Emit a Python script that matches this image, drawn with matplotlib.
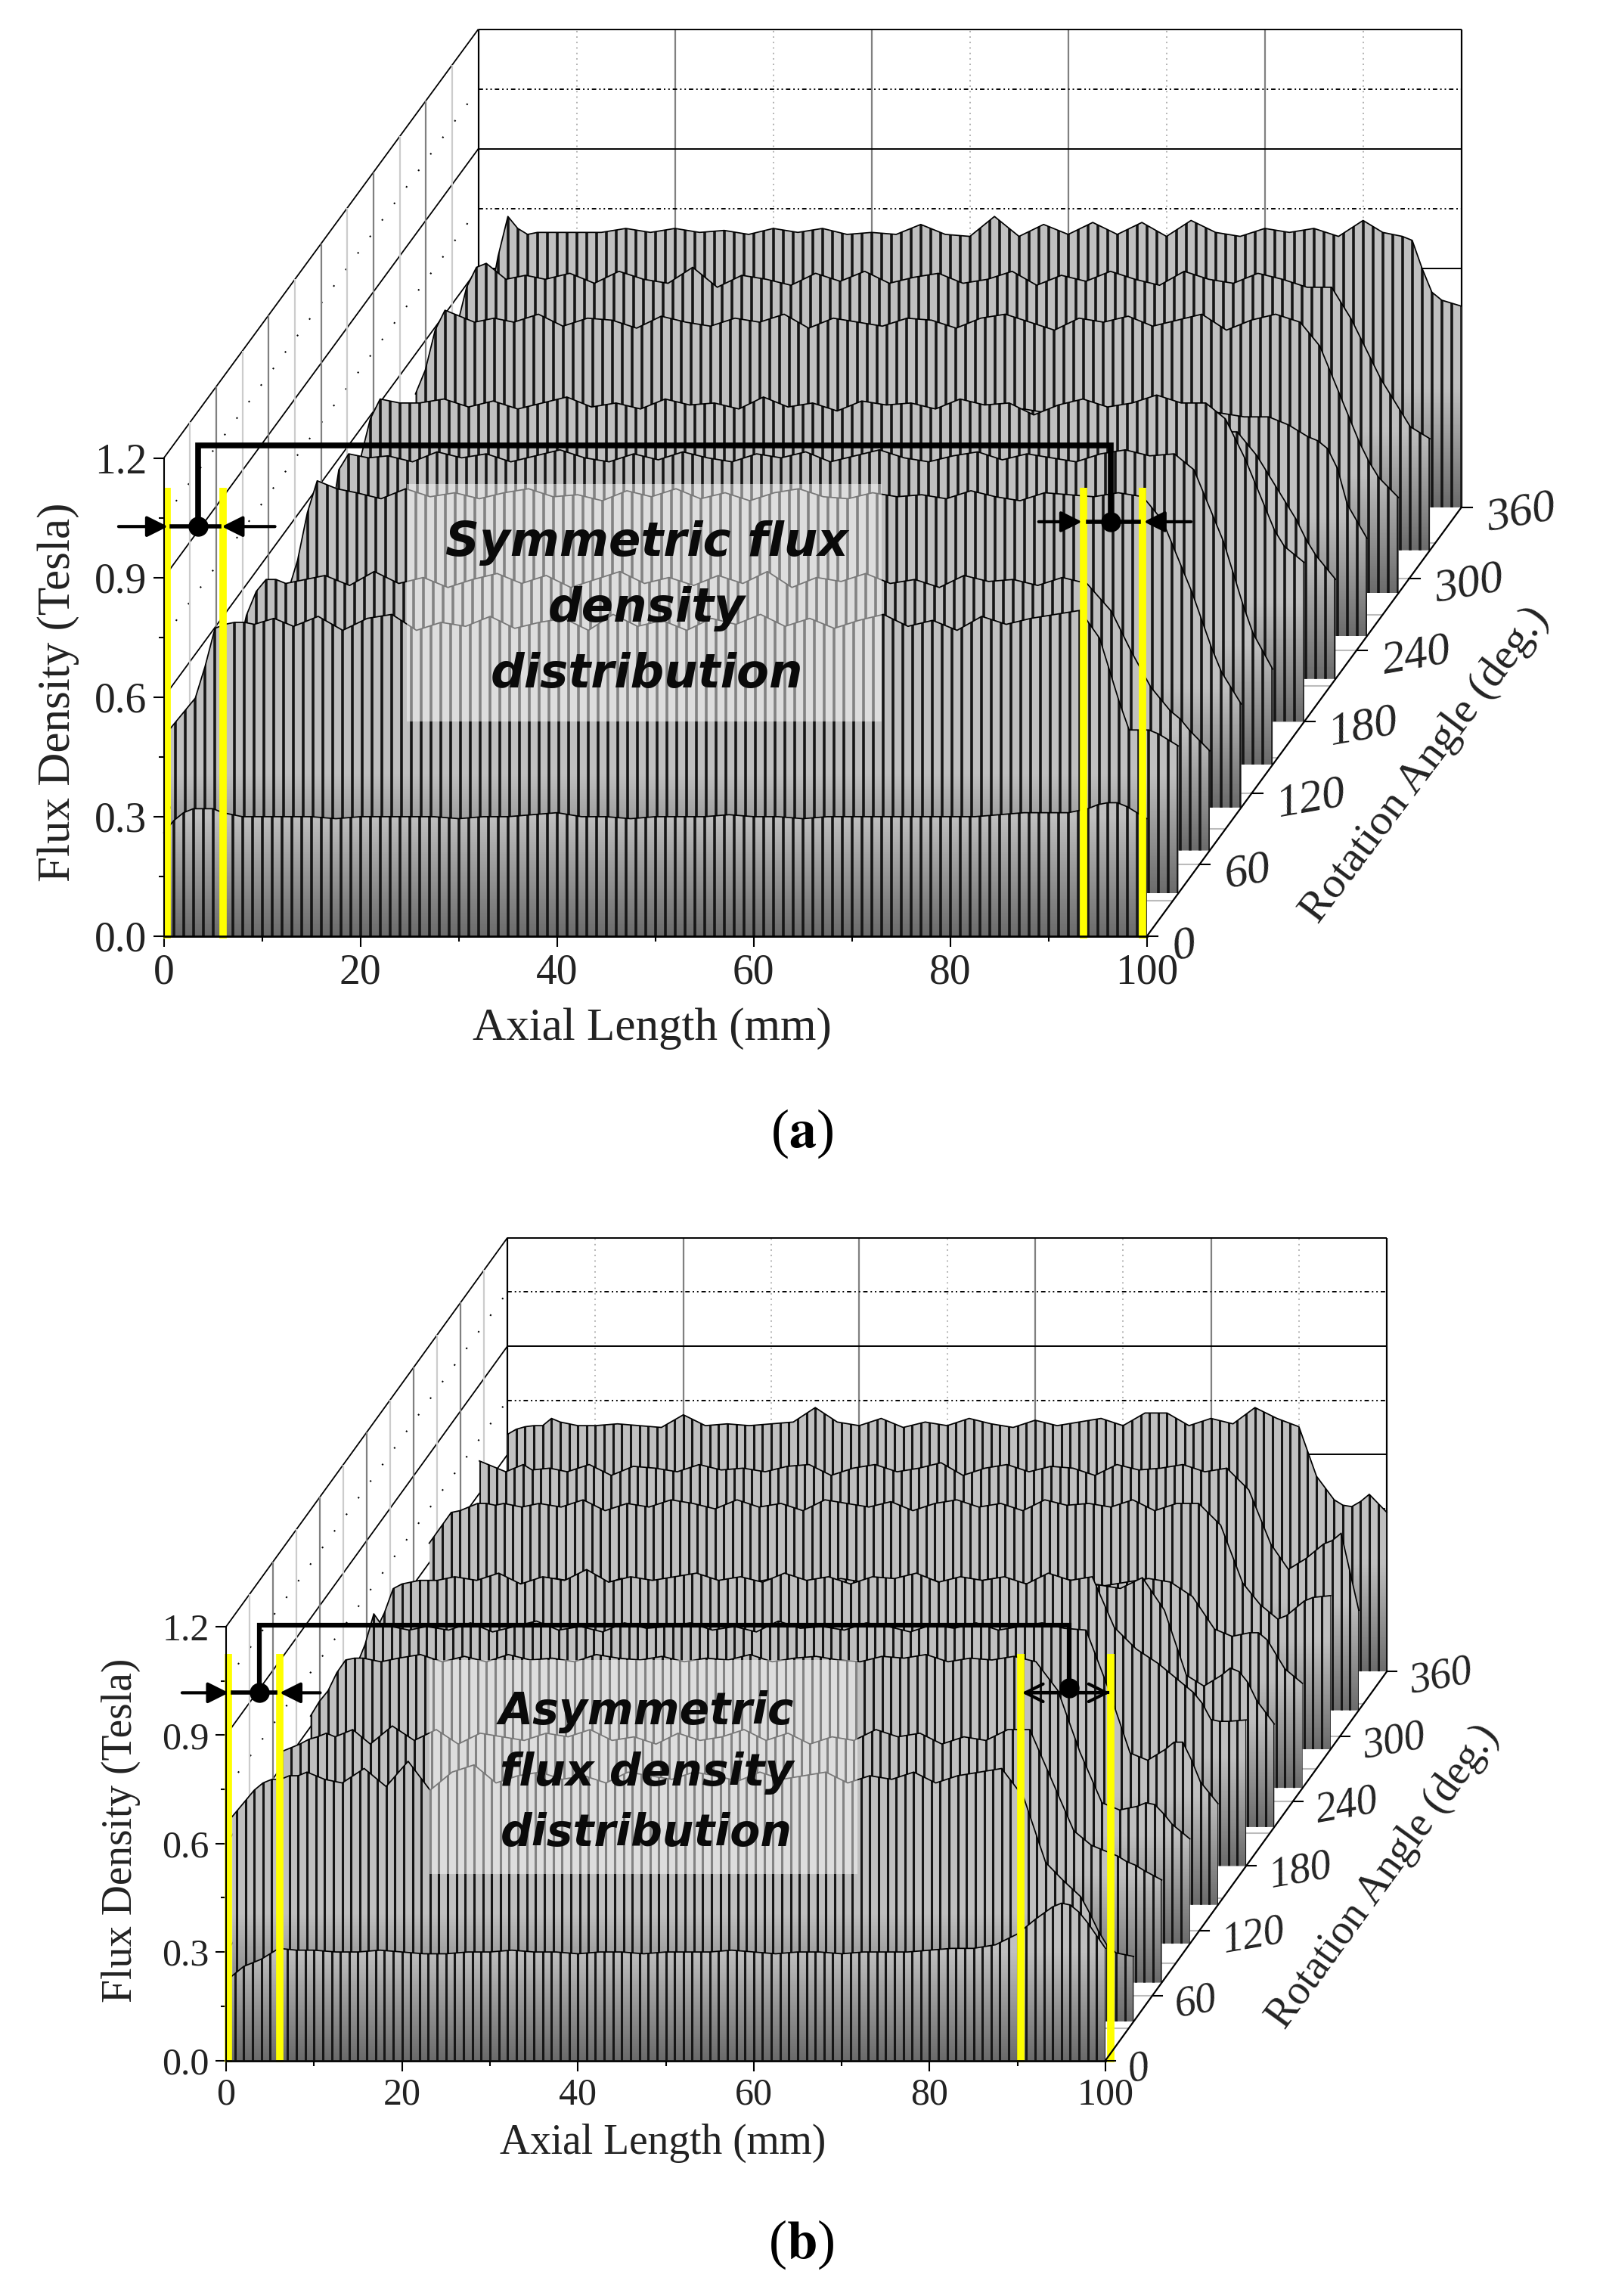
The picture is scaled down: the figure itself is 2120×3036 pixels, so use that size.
"""Two oblique wall plots of flux density against axial length and rotation angle."""
import matplotlib
matplotlib.use("Agg")
import matplotlib.pyplot as plt
import numpy as np
from matplotlib.patches import Polygon, Rectangle

plt.rcParams["font.family"] = ["Liberation Serif", "DejaVu Serif"]
plt.rcParams["mathtext.fontset"] = "stix"

nan = float("nan")

# --- data ---
angles = [0, 36, 72, 108, 144, 180, 216, 252, 288, 324, 360]
x_mm = [-2.5, 0, 1, 2, 3, 4, 5, 6, 8,
        10, 12.5, 15, 17.5, 20, 22.5, 25, 27.5, 30, 32.5, 35, 37.5, 40, 42.5, 45, 47.5, 50,
        52.5, 55, 57.5, 60, 62.5, 65, 67.5, 70, 72.5, 75, 77.5, 80, 82.5, 85, 87.5, 90,
        92, 94, 95, 96, 97, 98, 100]

# (a) symmetric
a_z000 = [nan, .26, .29, .31, .32, .32, .32, .31, .30,
          .30, .30, .30, .295, .30, .30, .30, .30, .295, .30, .30, .305, .31, .30, .30, .295,
          .30, .30, .30, .305, .30, .30, .295, .30, .30, .30, .30, .30, .30, .30, .305, .31, .31,
          .31, .32, .33, .335, .335, .325, .295]
a_z036 = [.415, .49, .57, .665, .675, .68, .68, .675, .69,
          .67, .695, .66, .69, .70, .66, .68, .67, .695, .665, .68, .69, .66, .70, .67, .685,
          .66, .69, .675, .70, .67, .69, .665, .685, .70, .67, .685, .66, .695, .675, .69, .70, .71,
          .64, .48, .41, .41, .41, .40, .37]
a_z072 = [nan, .42, .48, .59, .65, .68, .68, .67, .68,
          .69, .665, .70, .67, .685, .66, .68, .695, .67, .69, .66, .68, .70, .67, .685, .665,
          .69, .67, .70, .66, .685, .675, .695, .67, .68, .66, .69, .675, .68, .665, .685, .67, .60,
          .50, .41, .38, .35, .33, .30, .25]
a_z108 = [nan, .36, .42, .48, .54, .62, .74, .82, .80,
          .79, .775, .80, .78, .79, .775, .79, .80, .78, .785, .77, .795, .78, .80, .775, .79,
          .77, .79, .80, .78, .775, .79, .78, .785, .775, .795, .78, .77, .79, .785, .78, .79, .78,
          .72, .60, .54, .47, .40, .34, .26]
a_z144 = [nan, .33, .36, .40, .46, .58, .74, .78, .77,
          .775, .76, .785, .77, .78, .76, .775, .79, .77, .76, .78, .765, .785, .77, .76, .78,
          .77, .785, .76, .775, .79, .77, .76, .775, .785, .765, .78, .77, .76, .78, .79, .775, .78,
          .74, .62, .56, .48, .40, .33, .24]
a_z180 = [nan, .36, .40, .46, .54, .66, .76, .81, .80,
          .80, .81, .79, .805, .785, .80, .815, .79, .80, .785, .81, .795, .80, .785, .815, .79,
          .80, .78, .805, .795, .80, .785, .81, .795, .80, .77, .795, .81, .79, .80, .82, .80, .80,
          .76, .66, .60, .54, .48, .44, .40]
a_z216 = [nan, .28, .31, .35, .40, .46, .52, .57, .60,
          .62, .61, .63, .62, .61, .63, .62, .60, .62, .63, .61, .62, .63, .61, .62, .60,
          .63, .62, .61, .63, .62, .61, .62, .63, .60, .62, .61, .63, .62, .61, .63, .62, .62,
          .56, .48, .44, .40, .35, .31, .25]
a_z252 = [nan, .27, .30, .34, .38, .44, .49, .53, .55,
          .56, .55, .57, .56, .55, .56, .57, .55, .56, .57, .55, .56, .57, .56, .55, .57,
          .56, .55, .56, .57, .55, .56, .57, .56, .55, .57, .56, .55, .56, .57, .56, .55, .55,
          .53, .50, .49, .47, .42, .33, .245]
a_z288 = [nan, .50, .56, .66, .71, .70, .69, .68, .69,
          .68, .70, .67, .69, .685, .665, .695, .68, .67, .69, .68, .70, .665, .69, .68, .67,
          .69, .685, .665, .69, .70, .68, .66, .69, .68, .695, .67, .685, .70, .66, .685, .70, .68,
          .62, .50, .44, .38, .33, .29, .24]
a_z324 = [nan, .46, .56, .66, .71, .72, .70, .68, .69,
          .68, .695, .67, .70, .68, .67, .71, .66, .69, .68, .665, .695, .675, .70, .67, .685,
          .695, .67, .68, .70, .665, .69, .675, .70, .68, .665, .70, .68, .67, .695, .68, .66, .66,
          .58, .48, .43, .39, .35, .31, .28]
a_z360 = [nan, .42, .50, .63, .73, .70, .685, .69, .69,
          .69, .69, .70, .69, .70, .69, .695, .685, .70, .69, .70, .685, .69, .685, .71, .685,
          .68, .73, .68, .71, .685, .715, .685, .715, .68, .72, .69, .68, .70, .69, .70, .68, .72,
          .69, .68, .67, .60, .54, .52, .505]

# (b) asymmetric
b_z000 = [nan, .22, .24, .26, .27, .28, .295, .31, .305,
          .305, .30, .30, .305, .30, .295, .295, .30, .30, .305, .30, .30, .295, .30, .30, .295,
          .30, .30, .30, .305, .30, .295, .30, .30, .295, .30, .30, .30, .305, .31, .31, .32, .35,
          .39, .425, .435, .43, .41, .38, .31]
b_z036 = [.567, .64, .66, .67, .67, .68, .68, .69, .67,
          .66, .70, .65, .72, .64, .69, .71, .66, .68, .69, .67, .68, .66, .69, .68, .67,
          .69, .68, .665, .69, .67, .68, .69, .66, .68, .67, .69, .66, .68, .69, .70, .62, .44,
          .39, .345, .30, .25, .21, .19, .18]
b_z072 = [nan, .64, .65, .66, .673, .68, .69, .68, .70,
          .66, .71, .67, .70, .66, .69, .68, .67, .69, .68, .70, .67, .68, .66, .69, .67,
          .68, .70, .67, .69, .66, .68, .67, .70, .68, .69, .66, .68, .67, .70, .70, .56, .42,
          .38, .36, .35, .335, .325, .31, .284]
b_z108 = [nan, .63, .67, .70, .75, .785, .79, .79, .78,
          .79, .80, .78, .795, .78, .80, .785, .79, .78, .80, .79, .785, .795, .78, .79, .785,
          .80, .78, .79, .795, .785, .78, .795, .79, .80, .78, .79, .785, .795, .78, .70, .53, .39,
          .37, .38, .39, .385, .36, .33, .29]
b_z144 = [nan, .55, .60, .66, .72, .805, .77, .77, .76,
          .77, .76, .78, .755, .77, .785, .76, .77, .755, .78, .765, .77, .78, .76, .77, .755,
          .785, .765, .77, .76, .78, .77, .755, .775, .765, .78, .76, .77, .78, .765, .76, .60, .42,
          .40, .43, .45, .45, .40, .34, .28]
b_z180 = [nan, .60, .65, .70, .767, .78, .785, .79, .79,
          .80, .79, .81, .78, .80, .79, .82, .785, .80, .79, .80, .81, .79, .80, .785, .81,
          .79, .80, .78, .80, .795, .81, .785, .80, .79, .80, .78, .81, .79, .80, .66, .60, .56,
          .52, .48, .45, .405, .40, .40, .404]
b_z216 = [nan, .40, .45, .50, .55, .60, .63, .65, .66,
          .66, .65, .67, .66, .65, .67, .66, .65, .67, .66, .65, .67, .66, .65, .66, .67,
          .65, .66, .67, .65, .66, .67, .66, .65, .67, .66, .65, .66, .67, .66, .69, .60, .42,
          .39, .42, .44, .43, .40, .35, .285]
b_z252 = [nan, .35, .39, .43, .47, .51, .54, .56, .57,
          .57, .56, .58, .57, .56, .58, .57, .56, .57, .58, .56, .57, .58, .57, .56, .58,
          .57, .56, .57, .58, .56, .57, .58, .57, .56, .58, .57, .56, .57, .58, .57, .53, .44,
          .42, .43, .43, .41, .37, .33, .29]
b_z288 = [.57, .655, .66, .67, .68, .68, .675, .68, .67,
          .68, .67, .69, .66, .68, .67, .69, .68, .665, .69, .67, .68, .66, .69, .68, .67,
          .685, .66, .68, .69, .67, .68, .66, .69, .675, .68, .67, .69, .66, .68, .68, .62, .46,
          .40, .36, .37, .39, .41, .42, .425]
b_z324 = [nan, .69, .68, .67, .66, .67, .68, .665, .67,
          .66, .68, .65, .675, .67, .66, .68, .665, .67, .66, .675, .68, .65, .67, .68, .66,
          .67, .685, .65, .67, .68, .66, .675, .67, .65, .68, .665, .67, .68, .66, .67, .61, .46,
          .39, .42, .44, .46, .47, .49, .277]
b_z360 = [nan, .656, .67, .677, .68, .68, .70, .69, .68,
          .68, .685, .68, .675, .71, .68, .685, .68, .685, .69, .73, .69, .68, .70, .675, .69,
          .68, .70, .685, .675, .695, .68, .69, .70, .68, .715, .715, .68, .70, .685, .73, .70, .677,
          .54, .475, .46, .456, .47, .49, .44]

a_curves = [a_z000, a_z036, a_z072, a_z108, a_z144, a_z180, a_z216, a_z252, a_z288, a_z324, a_z360]
b_curves = [b_z000, b_z036, b_z072, b_z108, b_z144, b_z180, b_z216, b_z252, b_z288, b_z324, b_z360]

y_ticks = [0.0, 0.3, 0.6, 0.9, 1.2]
x_ticks = [0, 20, 40, 60, 80, 100]
z_ticks = [0, 60, 120, 180, 240, 300, 360]

a_yellow = [0.3, 6.0, 93.6, 99.6]
b_yellow = [0.27, 6.07, 90.4, 100.6]

# how far a row at 360 deg is shifted on the page, in mm and tesla
SX = 32.0 / 360
SY = 1.076 / 360

W, H = 2120, 3036
TEXT = "#222222"
fig = plt.figure(figsize=(W / 100, H / 100), dpi=100)


def P(x, y, z):
    return x + z * SX, y + z * SY


def make_axes(x0_px, y0_px, mm_px, tesla_px, top_px, bottom_px, tick_size):
    ax = fig.add_axes([0, 1 - bottom_px / H, 1, (bottom_px - top_px) / H])
    ax.patch.set_visible(False)
    ax.set_xlim(-x0_px / mm_px, (W - x0_px) / mm_px)
    ax.set_ylim((y0_px - bottom_px) / tesla_px, (y0_px - top_px) / tesla_px)
    ax.set_autoscale_on(False)
    for side in ("top", "right"):
        ax.spines[side].set_visible(False)
    ax.spines["left"].set_position(("data", 0))
    ax.spines["bottom"].set_position(("data", 0))
    ax.spines["left"].set_bounds(0, 1.2)
    ax.spines["bottom"].set_bounds(0, 100)
    ax.spines["left"].set_zorder(60)
    ax.spines["bottom"].set_zorder(60)
    ax.spines["left"].set_linewidth(1.5)
    ax.spines["bottom"].set_linewidth(2.0)
    ax.set_xticks(x_ticks)
    ax.set_yticks(y_ticks)
    ax.set_yticklabels([f"{v:.1f}" for v in y_ticks])
    ax.set_xticks(np.arange(10, 100, 20), minor=True)
    ax.set_yticks(np.arange(0.15, 1.2, 0.3), minor=True)
    ax.tick_params(axis="both", which="major", length=10, width=1.5, labelsize=tick_size,
                   labelcolor=TEXT, pad=6)
    ax.tick_params(axis="both", which="minor", length=5, width=1.5)
    return ax


def draw_walls(ax, z_size):
    line = dict(solid_capstyle="butt", zorder=1)
    # left wall
    for y in (0.3, 0.6, 0.9, 1.2):
        ax.plot(*zip(P(0, y, 0), P(0, y, 360)), color="k", lw=1.3, **line)
    for y in (0.45, 0.75, 1.05):
        ax.plot(*zip(P(0, y, 0), P(0, y, 360)), color="k", lw=1.5, ls=(0, (1, 12)), zorder=1)
    for z in range(30, 360, 30):
        col = "#808080" if z % 60 == 0 else "#cccccc"
        ax.plot(*zip(P(0, 0, z), P(0, 1.2, z)), color=col, lw=1.6, **line)
    # back wall
    for x in (0, 100):
        ax.plot(*zip(P(x, 0, 360), P(x, 1.2, 360)), color="k", lw=1.6, **line)
    for x in range(20, 100, 20):
        ax.plot(*zip(P(x, 0, 360), P(x, 1.2, 360)), color="#808080", lw=1.6, **line)
    for x in range(10, 100, 20):
        ax.plot(*zip(P(x, 0, 360), P(x, 1.2, 360)), color="#aaaaaa", lw=1.3, ls=(0, (1, 3)), zorder=1)
    for y in (0.3, 0.6, 0.9, 1.2):
        ax.plot(*zip(P(0, y, 360), P(100, y, 360)), color="k", lw=1.4, **line)
    for y in (0.45, 0.75, 1.05):
        ax.plot(*zip(P(0, y, 360), P(100, y, 360)), color="k", lw=1.4, ls=(0, (3, 2, 1, 2, 1, 2)), zorder=1)
    # floor
    for z in range(30, 360, 30):
        ax.plot(*zip(P(0, 0, z), P(100, 0, z)), color="#bbbbbb", lw=1.5, **line)
    # rotation axis
    ax.plot(*zip(P(100, 0, 0), P(100, 0, 360)), color="k", lw=1.6, zorder=60)
    for z in z_ticks:
        x, y = P(100, 0, z)
        ax.plot([x, x + 1.1], [y, y], color="k", lw=1.5, zorder=60)
        ax.text(x + 2.6, y - 0.03, str(z), fontsize=z_size, style="italic", rotation=10,
                color=TEXT, ha="left", va="center", rotation_mode="anchor", zorder=61)


def draw_rows(ax, curves, bar_lw):
    xs = np.array(x_mm)
    # grey rises over the lowest 0.3 T of each row, then stays flat
    heights = np.linspace(0, 1.0, 128)
    shade = np.minimum(0.42 + 0.33 * heights / 0.3, 0.75).reshape(-1, 1)
    for k, (z, vals) in enumerate(zip(angles, curves)):
        assert len(vals) == len(x_mm)
        v = np.array(vals)
        ok = np.isfinite(v)
        px = xs[ok] + z * SX
        py = v[ok] + z * SY
        base = z * SY
        zo = 5 + 3 * (10 - k)
        verts = [(px[0], base)] + list(zip(px, py)) + [(px[-1], base)]
        shape = Polygon(verts, closed=True, facecolor="none", edgecolor="none",
                        transform=ax.transData, zorder=zo)
        ax.add_patch(shape)
        im = ax.imshow(shade, cmap="gray", vmin=0, vmax=1, origin="lower", aspect="auto",
                       extent=[px[0], px[-1], base, base + 1.0], zorder=zo,
                       interpolation="bilinear")
        im.set_clip_path(shape)
        bars = ax.vlines(np.arange(-3, 101) + z * SX, base, base + 1.0, color="#161616",
                         lw=bar_lw, zorder=zo + 0.5)
        bars.set_clip_path(shape)
        ax.plot(px, py, color="k", lw=1.25, zorder=zo + 1, solid_joinstyle="round")


def draw_marks(ax, yellow, note_box, note_text, note_xy, note_size, note_gap, bracket, lw_b):
    ax.add_patch(Rectangle(note_box[:2], note_box[2], note_box[3], facecolor="white",
                           edgecolor="none", alpha=0.47, zorder=45))
    ax.text(note_xy[0], note_xy[1], note_text, fontsize=note_size, family="DejaVu Sans",
            style="italic", weight="bold", ha="center", va="center", linespacing=note_gap,
            color="#0a0a0a", zorder=46)
    for x in yellow:
        ax.plot([x, x], [-0.005, 1.125], color="#ffff00", lw=7, solid_capstyle="butt", zorder=50)
    xl, xr, yl, yr, ytop = bracket
    ax.plot([xl, xl, xr, xr], [yl, ytop, ytop, yr], color="k", lw=lw_b, zorder=52,
            solid_joinstyle="miter")
    ax.plot([xl, xr], [yl, yr], "o", color="k", ms=18, zorder=53)


def arrow(ax, tip, tail, style="-|>", lw=3.0, scale=42):
    ax.annotate("", xy=tip, xytext=tail, zorder=54, annotation_clip=False,
                arrowprops=dict(arrowstyle=style, color="k", lw=lw, mutation_scale=scale,
                                shrinkA=0, shrinkB=0))


def labels(ax, xlab, ylab, zlab, zrot, sizes, tag, tag_xy):
    ax.text(*xlab, "Axial Length (mm)", fontsize=sizes[0], color=TEXT, ha="center", va="center")
    ax.text(*ylab, "Flux Density (Tesla)", fontsize=sizes[1], color=TEXT, rotation=90,
            ha="center", va="center")
    ax.text(*zlab, "Rotation Angle (deg.)", fontsize=sizes[2], color=TEXT, rotation=zrot,
            ha="center", va="center", rotation_mode="anchor")
    ax.text(*tag_xy, "(" + r"$\mathbf{" + tag + "}$" + ")", fontsize=52, ha="center", va="center")


# panel (a)
ax_a = make_axes(216.7, 1238, 13.0, 527, 0, 1560, 40)
draw_walls(ax_a, 44)
draw_rows(ax_a, a_curves, 2.6)
draw_marks(ax_a, a_yellow, (24.7, 0.538, 48.3, 0.596), "Symmetric flux\ndensity\ndistribution",
           (49.1, 0.822), 45, 1.58, (3.5, 96.35, 1.028, 1.04, 1.231), 5.5)
ax_a.plot([0.8, 5.6], [1.028, 1.028], color="k", lw=4, zorder=52)
ax_a.plot([94.0, 99.2], [1.04, 1.04], color="k", lw=4, zorder=52)
arrow(ax_a, (0.4, 1.028), (-4.6, 1.028))
arrow(ax_a, (5.9, 1.028), (11.3, 1.028))
arrow(ax_a, (93.4, 1.04), (89.0, 1.04))
arrow(ax_a, (99.7, 1.04), (104.5, 1.04))
labels(ax_a, (49.7, -0.231), (-10.7, 0.613), (128.3, 0.429), 53, (44, 44, 42), "a", (64.9, -0.496))

# panel (b)
ax_b = make_axes(299, 2724.5, 11.63, 478, 1560, H, 36)
draw_walls(ax_b, 40)
draw_rows(ax_b, b_curves, 2.2)
draw_marks(ax_b, b_yellow, (23.1, 0.516, 48.7, 0.591), "Asymmetric\nflux density\ndistribution",
           (47.8, 0.796), 42, 1.53, (3.8, 95.9, 1.017, 1.03, 1.205), 4.5)
ax_b.plot([0.8, 5.6], [1.017, 1.017], color="k", lw=4, zorder=52)
ax_b.plot([91.0, 100.3], [1.017, 1.017], color="k", lw=3, zorder=52)
arrow(ax_b, (0.3, 1.017), (-5.0, 1.017))
arrow(ax_b, (6.1, 1.017), (10.7, 1.017))
arrow(ax_b, (90.5, 1.017), (95, 1.017), style="->")
arrow(ax_b, (100.5, 1.017), (96, 1.017), style="->")
labels(ax_b, (49.7, -0.228), (-11.95, 0.637), (131.6, 0.509), 54, (40, 40, 40), "b", (65.4, -0.51))

fig.savefig("out.png", dpi=100)
